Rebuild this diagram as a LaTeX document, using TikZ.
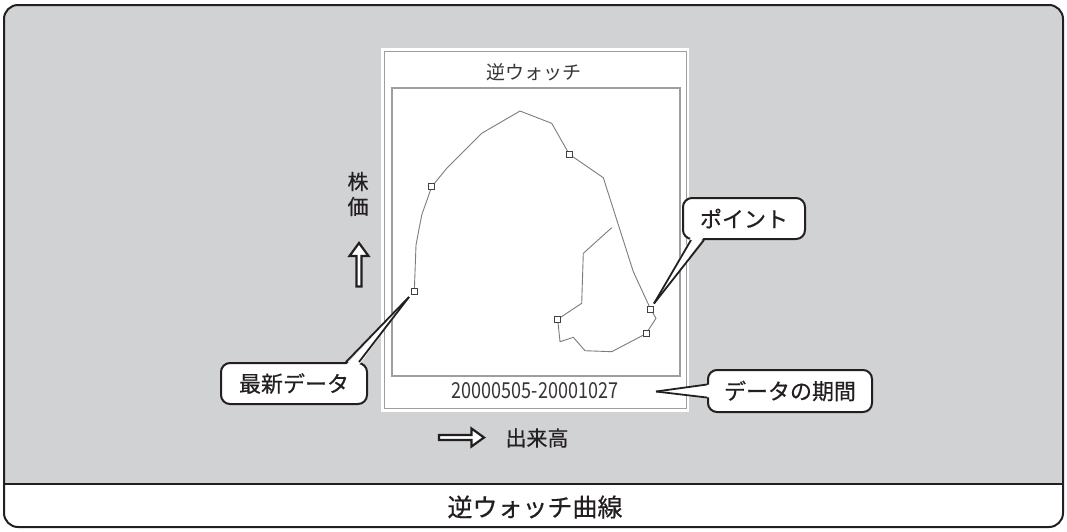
\documentclass[tikz,border=0pt]{standalone}
\usepackage{fontspec}
\setmainfont{Noto Sans CJK JP}[FakeBold=0.5]
\newfontfamily\chartfont{Noto Sans CJK JP}
\usetikzlibrary{calc}
\definecolor{bg}{HTML}{D1D2D4}
\definecolor{ink}{HTML}{231F20}
\definecolor{curvecol}{HTML}{7C7C7C}
\definecolor{panelline}{HTML}{9E9E9E}
\begin{document}
\begin{tikzpicture}[x=1pt,y=-1pt,
  callbox/.style={draw=ink, line width=2, fill=white, rounded corners=9, inner sep=0pt,
    font=\fontsize{22}{22}\selectfont, text=ink},
  pointer/.style={draw=ink, line width=1.8},
  marker/.style={draw=ink!85, line width=1, fill=white, minimum size=6pt, inner sep=0pt, shape=rectangle},
  lbl/.style={font=\fontsize{21}{25}\selectfont, text=ink},
  hollow/.style={draw=ink, line width=2.2, fill=white, line join=miter}
]
\useasboundingbox (0,0) rectangle (1067,531);
% frame
\begin{scope}
\clip[rounded corners=14] (4,5) rectangle (1063,527);
\fill[bg] (4,5) rectangle (1063,483.5);
\fill[white] (4,483.5) rectangle (1063,527);
\end{scope}
\draw[ink, line width=2, rounded corners=14] (4,5) rectangle (1063,527);
\draw[ink, line width=2] (4,483.5) -- (1063,483.5);
\node[font=\fontsize{25}{25}\selectfont, text=ink] (title) at (535,507) {逆ウォッチ曲線};

% chart panel
\fill[white] (381,48) rectangle (689,412);
\draw[panelline, line width=1] (384.5,51.5) rectangle (686.5,408.5);
\draw[panelline, line width=1.2] (392,88) rectangle (680,376);
\node[font=\chartfont\fontsize{19}{19}\selectfont, text=ink!90] (ctitle) at (534,72) {逆ウォッチ};
\node[text=ink!90] (period) at (535,391) {\scalebox{0.82}[1]{\chartfont\fontsize{22}{22}\selectfont 20000505-20001027}};

% curve
\coordinate (c1) at (414.3,291.7);
\coordinate (c4) at (431.7,186.7);
\coordinate (c9) at (569.3,154.3);
\coordinate (c12) at (650.7,309.3);
\coordinate (c14) at (646,333.7);
\coordinate (c19) at (557.7,319.3);
\draw[curvecol, line width=0.9, line join=round]
  (c1) -- (416,245) -- (421.7,215) -- (c4) -- (446.7,168.3) -- (481.7,133.3)
  -- (520,111) -- (551.7,123.3) -- (c9) -- (603.3,177.7) -- (633.3,271.7)
  -- (c12) -- (656,318.3) -- (c14) -- (611.7,351.7) -- (585,350.7)
  -- (573.3,337.3) -- (560,341.7) -- (c19) -- (581.7,303.3) -- (583.3,253.3)
  -- (611.7,227.7);
\foreach \c in {c1,c4,c9,c12,c14,c19} \node[marker] (m\c) at (\c) {};

% axis labels
\node[lbl, align=center] (kabuka) at (358,194) {株\\価};
\draw[hollow] (359,243) -- (368.5,256) -- (361.5,256) -- (361.5,286.5) -- (356.5,286.5) -- (356.5,256) -- (349.5,256) -- cycle;
\draw[hollow] (484,437.5) -- (471.5,428.5) -- (471.5,435) -- (439,435) -- (439,440) -- (471.5,440) -- (471.5,446.5) -- cycle;
\node[lbl] (vol) at (537,438) {出来高};

% callouts
\node[callbox, minimum width=146pt, minimum height=41pt] (lat) at (294,383.5) {最新データ};
\node[callbox, minimum width=122pt, minimum height=41pt] (pt) at (744,218.5) {ポイント};
\node[callbox, minimum width=164pt, minimum height=42pt] (per) at (790,391) {データの期間};

\coordinate (t1) at (409,297);
\coordinate (t2) at (654,303.5);
\coordinate (t3) at (656,391.5);

% pointer: latest
\fill[white] ($(lat.north east)+(-22,3)$) -- (t1) -- ($(lat.north east)+(-9,3)$) -- cycle;
\draw[pointer] ($(lat.north east)+(-22,0)$) -- (t1);
\draw[pointer] ($(lat.north east)+(-9,0)$) -- (t1);
% pointer: point
\fill[white] ($(pt.south west)+(9,-3)$) -- (t2) -- ($(pt.south west)+(22,-3)$) -- cycle;
\draw[pointer] ($(pt.south west)+(9,0)$) -- (t2);
\draw[pointer] ($(pt.south west)+(22,0)$) -- (t2);
% pointer: period
\fill[white] ($(per.west)+(3,-6.5)$) -- (t3) -- ($(per.west)+(3,6.5)$) -- cycle;
\draw[pointer] ($(per.west)+(0,-6.5)$) -- (t3);
\draw[pointer] ($(per.west)+(0,6.5)$) -- (t3);
\end{tikzpicture}
\end{document}
